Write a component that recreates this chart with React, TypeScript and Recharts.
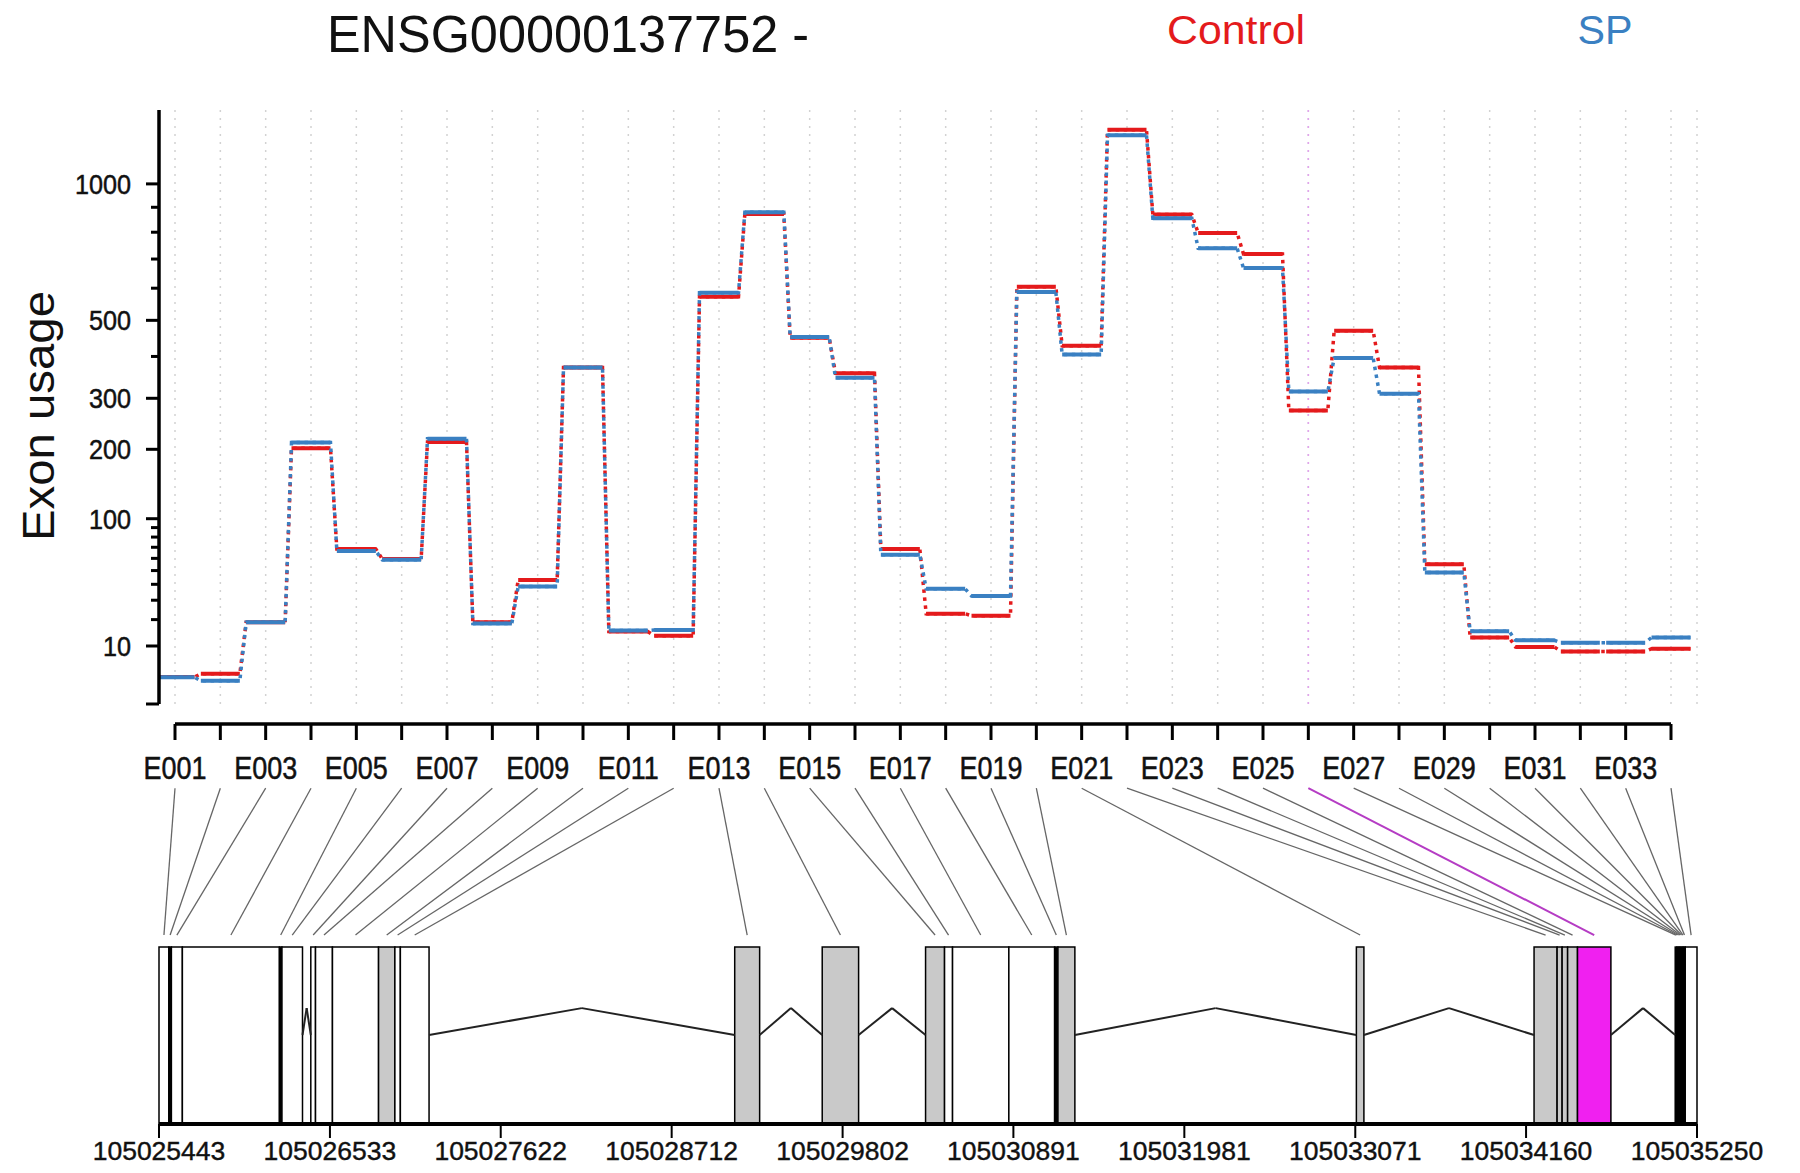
import { ComposedChart, Line, XAxis, YAxis, CartesianGrid, ReferenceLine, ReferenceArea } from 'recharts';

const FONT = '"Liberation Sans", Arial, Helvetica, sans-serif';
const RED = '#e41a1c';
const BLUE = '#3a80c2';
const INK = '#111';
const GREY = '#c9c9c9';
const MAGENTA = '#f020f0';

// exon bins in plotting order
const exonIds = [
  'E001', 'E002', 'E003', 'E004', 'E005', 'E006', 'E007', 'E008', 'E009', 'E010',
  'E011', 'E012', 'E013', 'E014', 'E015', 'E016', 'E017', 'E018', 'E019', 'E020',
  'E021', 'E022', 'E023', 'E024', 'E025', 'E026', 'E027', 'E028', 'E029', 'E030',
  'E031', 'E032', 'E033', 'E034',
];
const highlightExon = 'E026';

const controlUsage = [
  3.0, 3.5, 18.8, 202, 68.5, 59.5, 213, 18.8, 43, 372,
  15.0, 13.4, 572, 872, 450, 358, 68.5, 22.8, 21.8, 605,
  428, 1255, 870, 797, 718, 274, 470, 372, 55, 12.8,
  9.7, 8.4, 8.4, 9.2,
];
const spUsage = [
  2.95, 2.45, 18.8, 212, 66.5, 58.8, 219, 18.3, 38.5, 372,
  15.4, 15.6, 585, 880, 452, 347, 63.2, 37, 32.5, 588,
  405, 1228, 855, 739, 668, 315, 396, 310, 48.5, 15.1,
  11.8, 11.0, 11.0, 12.8,
];

const usageTicks = [10, 20, 30, 40, 50, 60, 70, 80, 90, 100, 200, 300, 400, 500, 600, 700, 800, 900, 1000];
const usageLabelled = [10, 100, 200, 300, 500, 1000];
const USAGE_MIN = 0.394;
const USAGE_MAX = 1357;

// genomic extent of each exon bin (same order as exonIds)
const binStart = [
  105025443, 105025506, 105025522, 105025592, 105026211, 105026227, 105026411, 105026441, 105026549, 105026843,
  105026947, 105026982, 105029114, 105029672, 105030331, 105030452, 105030503, 105030862, 105031154, 105031175,
  105033078, 105034211, 105034358, 105034390, 105034425, 105034488, 105035111, 105035120, 105035129, 105035138,
  105035147, 105035156, 105035165, 105035175,
];
const binEnd = [
  105025506, 105025522, 105025592, 105026211, 105026227, 105026358, 105026441, 105026549, 105026843, 105026947,
  105026982, 105027165, 105029273, 105029904, 105030452, 105030503, 105030862, 105031154, 105031175, 105031283,
  105033126, 105034358, 105034390, 105034425, 105034488, 105034701, 105035120, 105035129, 105035138, 105035147,
  105035156, 105035165, 105035175, 105035250,
];
const binFill = [
  '#fff', '#000', '#fff', '#fff', '#000', '#fff', '#fff', '#fff', '#fff', GREY,
  '#fff', '#fff', GREY, GREY, GREY, '#fff', '#fff', '#fff', '#000', GREY,
  GREY, GREY, GREY, GREY, GREY, MAGENTA, '#000', '#000', '#000', '#000',
  '#000', '#000', '#000', '#fff',
];

const geneTicks = [
  105025443, 105026533, 105027622, 105028712, 105029802,
  105030891, 105031981, 105033071, 105034160, 105035250,
];

// y axis uses a power (vst-like) scale
const POW = 0.42;
const tf = (v: number) => Math.pow(v, POW);

// both x axes share the plot width; exon axis domain chosen so E001..E034 sit under the ticks
const EXON_LO = 0.647;
const EXON_HI = 34.5735;
const GENE_LO = geneTicks[0];
const GENE_HI = geneTicks[geneTicks.length - 1];
const exonToGene = (e: number) => GENE_LO + ((e - EXON_LO) / (EXON_HI - EXON_LO)) * (GENE_HI - GENE_LO);

// gene model levels (box is 0..1)
const INTRON_BASE = 0.503;
const INTRON_PEAK = 0.655;
const LINK_LOW = 1.068;
const LINK_HIGH = 1.898;
const MODEL_TOP = 1.95;

const HALF = 0.43;

function buildUsageRows() {
  const rows: any[] = [];
  exonIds.forEach((_, i) => {
    const pos = i + 1;
    const c = tf(controlUsage[i]);
    const s = tf(spUsage[i]);
    rows.push({ x: pos - HALF, ctrlPath: c, spPath: s, ctrlSeg: c, spSeg: s });
    rows.push({ x: pos + HALF, ctrlPath: c, spPath: s, ctrlSeg: c, spSeg: s });
    if (i < exonIds.length - 1) {
      rows.push({ x: pos + 0.5, ctrlPath: null, spPath: null, ctrlSeg: null, spSeg: null });
    }
  });
  return rows;
}

function buildIntrons() {
  const out: { a: number; b: number }[] = [];
  for (let i = 0; i < binStart.length - 1; i++) {
    if (binStart[i + 1] > binEnd[i]) out.push({ a: binEnd[i], b: binStart[i + 1] });
  }
  return out;
}

const usageRows = buildUsageRows();
const introns = buildIntrons();
const exonPositions = exonIds.map((_, i) => i + 1);

function UsageTick(props: any) {
  const { x, y, payload, index } = props;
  const v = index === 0 ? null : Math.round(Math.pow(payload.value, 1 / POW));
  const major = index === 0 || usageLabelled.includes(v as number);
  const len = major ? 13 : 8;
  return (
    <g>
      <line x1={x - len} x2={x} y1={y} y2={y} stroke="#000" strokeWidth={3} />
      {major && v !== null && (
        <text
          transform={`translate(${x - len - 15},${y}) scale(0.9,1)`}
          dy="0.36em"
          textAnchor="end"
          fontSize={28}
          fill={INK}
          stroke={INK}
          strokeWidth={0.5}
          fontFamily={FONT}
        >
          {v}
        </text>
      )}
    </g>
  );
}

function ExonTick(props: any) {
  const { x, y, payload } = props;
  const i = payload.value - 1;
  if (i % 2 === 1) return <g />;
  return (
    <text
      transform={`translate(${x},${y + 37}) scale(0.87,1)`}
      textAnchor="middle"
      fontSize={31}
      fill={INK}
      stroke={INK}
      strokeWidth={0.5}
      fontFamily={FONT}
    >
      {exonIds[i]}
    </text>
  );
}

function GeneTick(props: any) {
  const { x, y, payload } = props;
  return (
    <text x={x} y={y + 22} textAnchor="middle" fontSize={26.5} fill={INK} stroke={INK} strokeWidth={0.4} fontFamily={FONT}>
      {payload.value}
    </text>
  );
}

export default function App() {
  const hiPos = exonIds.indexOf(highlightExon) + 1;
  return (
    <div style={{ position: 'absolute', left: 0, top: 0, width: 1800, height: 1173, background: '#fff', fontFamily: FONT }}>
      <svg width={1800} height={1173} style={{ position: 'absolute', left: 0, top: 0 }}>
        <text x={568} y={52} textAnchor="middle" fontSize={51} fill={INK} fontFamily={FONT} textLength={482} lengthAdjust="spacingAndGlyphs">
          ENSG00000137752 -
        </text>
        <text x={1236} y={44} textAnchor="middle" fontSize={40} fill={RED} fontFamily={FONT} textLength={138} lengthAdjust="spacingAndGlyphs">
          Control
        </text>
        <text x={1605} y={44} textAnchor="middle" fontSize={40} fill={BLUE} fontFamily={FONT} textLength={55} lengthAdjust="spacingAndGlyphs">
          SP
        </text>
        <text
          transform="translate(54,416) rotate(-90)"
          textAnchor="middle"
          fontSize={45}
          fill={INK}
          fontFamily={FONT}
          textLength={250}
          lengthAdjust="spacingAndGlyphs"
        >
          Exon usage
        </text>
      </svg>

      {/* exon usage panel */}
      <div style={{ position: 'absolute', left: 0, top: 0 }}>
        <ComposedChart width={1800} height={720} data={usageRows} margin={{ top: 110, right: 103, bottom: 16, left: 9 }}>
          <CartesianGrid horizontal={false} stroke="#d2d2d2" strokeDasharray="2 6" strokeWidth={1.5} />
          <XAxis
            type="number"
            dataKey="x"
            domain={[EXON_LO, EXON_HI]}
            allowDataOverflow
            ticks={exonPositions}
            interval={0}
            hide
          />
          <YAxis
            type="number"
            width={150}
            domain={[tf(USAGE_MIN), tf(USAGE_MAX)]}
            allowDataOverflow
            ticks={[tf(USAGE_MIN), ...usageTicks.map(tf)]}
            interval={0}
            tickSize={0}
            tickMargin={0}
            tickLine={false}
            axisLine={{ stroke: '#000', strokeWidth: 3.5 }}
            tick={<UsageTick />}
          />
          <ReferenceLine x={hiPos} stroke="#e2a3ee" strokeDasharray="2 6" strokeWidth={1.5} />
          <Line type="linear" dataKey="ctrlPath" stroke={RED} strokeWidth={3.5} strokeDasharray="3.5 4.5" dot={false} activeDot={false} connectNulls isAnimationActive={false} />
          <Line type="linear" dataKey="ctrlSeg" stroke={RED} strokeWidth={4} dot={false} activeDot={false} isAnimationActive={false} />
          <Line type="linear" dataKey="spPath" stroke={BLUE} strokeWidth={3.5} strokeDasharray="3.5 4.5" dot={false} activeDot={false} connectNulls isAnimationActive={false} />
          <Line type="linear" dataKey="spSeg" stroke={BLUE} strokeWidth={4} dot={false} activeDot={false} isAnimationActive={false} />
        </ComposedChart>
      </div>

      {/* exon axis */}
      <div style={{ position: 'absolute', left: 0, top: 0 }}>
        <ComposedChart width={1800} height={800} data={exonPositions.map((x) => ({ x }))} margin={{ top: 700, right: 129, bottom: 0, left: 175 }}>
          <XAxis
            type="number"
            dataKey="x"
            domain={[1, exonIds.length]}
            ticks={exonPositions}
            interval={0}
            height={76}
            tickSize={16}
            tickMargin={2}
            axisLine={{ stroke: '#000', strokeWidth: 3.5 }}
            tickLine={{ stroke: '#000', strokeWidth: 3 }}
            tick={<ExonTick />}
          />
          <YAxis hide />
        </ComposedChart>
      </div>

      {/* gene model with links to exon labels */}
      <div style={{ position: 'absolute', left: 0, top: 0 }}>
        <ComposedChart width={1800} height={1173} data={[{ g: GENE_LO }, { g: GENE_HI }]} margin={{ top: 779, right: 103, bottom: 0, left: 159 }}>
          <XAxis
            type="number"
            dataKey="g"
            domain={[GENE_LO, GENE_HI]}
            allowDataOverflow
            ticks={geneTicks}
            interval={0}
            height={49}
            tickSize={14}
            tickMargin={0}
            axisLine={{ stroke: '#000', strokeWidth: 4 }}
            tickLine={{ stroke: '#000', strokeWidth: 2 }}
            tick={<GeneTick />}
          />
          <YAxis hide type="number" domain={[0, MODEL_TOP]} allowDataOverflow />
          {exonIds.map((id, i) => (
            <ReferenceLine
              key={`link-${id}`}
              ifOverflow="visible"
              stroke={id === highlightExon ? '#b53cc4' : '#666'}
              strokeWidth={id === highlightExon ? 2 : 1.3}
              segment={[
                { x: exonToGene(i + 1), y: LINK_HIGH },
                { x: (binStart[i] + binEnd[i]) / 2, y: LINK_LOW },
              ]}
            />
          ))}
          {introns.map((t, i) => (
            <ReferenceLine
              key={`in-a-${i}`}
              ifOverflow="visible"
              stroke="#222"
              strokeWidth={2}
              segment={[
                { x: t.a, y: INTRON_BASE },
                { x: (t.a + t.b) / 2, y: INTRON_PEAK },
              ]}
            />
          ))}
          {introns.map((t, i) => (
            <ReferenceLine
              key={`in-b-${i}`}
              ifOverflow="visible"
              stroke="#222"
              strokeWidth={2}
              segment={[
                { x: (t.a + t.b) / 2, y: INTRON_PEAK },
                { x: t.b, y: INTRON_BASE },
              ]}
            />
          ))}
          {exonIds.map((id, i) => (
            <ReferenceArea
              key={`box-${id}`}
              ifOverflow="visible"
              x1={binStart[i]}
              x2={binEnd[i]}
              y1={0}
              y2={1}
              fill={binFill[i]}
              fillOpacity={1}
              stroke="#000"
              strokeWidth={1.5}
            />
          ))}
        </ComposedChart>
      </div>
    </div>
  );
}
